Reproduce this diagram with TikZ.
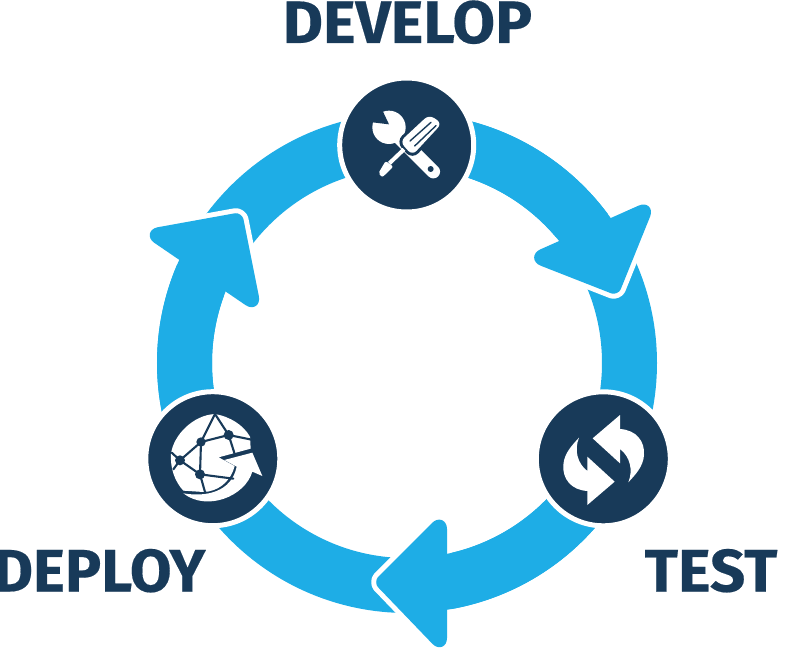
\documentclass[tikz,border=0pt]{standalone}
\usepackage{fontspec}
\usetikzlibrary{calc}
\setmainfont{Fira Sans}
\newfontfamily\labfont[FakeStretch=1.03,BoldFeatures={FakeBold=0.3}]{Fira Sans}
\definecolor{ringblue}{HTML}{1EADE6}
\definecolor{navy}{HTML}{183A59}
\tikzset{
  tri/.style n args={3}{insert path={
    ($(#1)!7pt!(#3)$) .. controls ($(#1)!3.8pt!(#3)$) and ($(#1)!3.8pt!(#2)$) .. ($(#1)!7pt!(#2)$)
    -- ($(#2)!21pt!(#1)$) .. controls ($(#2)!12pt!(#1)$) and ($(#2)!12pt!(#3)$) .. ($(#2)!21pt!(#3)$)
    -- ($(#3)!21pt!(#2)$) .. controls ($(#3)!12pt!(#2)$) and ($(#3)!12pt!(#1)$) .. ($(#3)!21pt!(#1)$)
    -- cycle}},
  head/.style={fill=ringblue},
  halo/.style={draw=white,line width=10,fill=white,line join=round},
  band/.style={draw=ringblue,line width=55},
  disc/.style={circle,fill=navy,draw=white,line width=5,minimum size=134,inner sep=0},
  label/.style={text=navy,font=\labfont\fontsize{60}{60}\selectfont\bfseries,inner sep=0,anchor=base},
  ico/.style={fill=white,draw=none},
  cut/.style={draw=navy,line cap=round,line join=round,line width=2.1}
}
\begin{document}
\begin{tikzpicture}[x=1pt,y=-1pt]
\useasboundingbox (0,0) rectangle (796,666);
\coordinate (c) at (407,363);
% full ring
\draw[band] (c) circle[radius=222.5];
% arrowhead corners
\coordinate (a1) at (618,296); \coordinate (a2) at (658,197); \coordinate (a3) at (521,258);
\coordinate (b1) at (373,582); \coordinate (b2) at (447,508); \coordinate (b3) at (447,659);
\coordinate (d1) at (242,212); \coordinate (d2) at (137,231); \coordinate (d3) at (263,317);
\path[halo,tri={a1}{a2}{a3}];
\path[halo,tri={b1}{b2}{b3}];
\path[halo,tri={d1}{d2}{d3}];
% incoming bands
\draw[band] ($(c)+(-90:222.5)$) arc[start angle=-90,end angle=-30,radius=222.5];
\draw[band] ($(c)+(30:222.5)$) arc[start angle=30,end angle=85,radius=222.5];
\draw[band] ($(c)+(-210:222.5)$) arc[start angle=-210,end angle=-150,radius=222.5];
% arrowheads
\path[head,tri={a1}{a2}{a3}];
\path[head,tri={b1}{b2}{b3}];
\path[head,tri={d1}{d2}{d3}];
% stage discs
\node[disc] (develop) at (406.7,145) {};
\node[disc] (test) at (603.3,458.8) {};
\node[disc] (deploy) at (212.8,458.7) {};
% wrench and screwdriver
\begin{scope}[shift={(330,70)},scale=1/3]
  \draw[white,line width=13.5,line cap=round] (180,175) -- (310,305);
  \fill[white] (177,172) circle[radius=50];
  \fill[navy] (160,127) -- (177,163) -- (127,157) -- (105,130) -- (140,100) -- cycle;
  \fill[navy] (302,297) circle[radius=9];
  \path[draw=navy,line width=6,rounded corners=6] (210,215) -- (297,134) -- (336,160) -- (247,256) -- cycle;
  \path[fill=white,rounded corners=6] (210,215) -- (297,134) -- (336,160) -- (247,256) -- cycle;
  \draw[white,line width=4,line cap=butt] (222,238) -- (178,280);
  \path[ico,rounded corners=2] (167,273) -- (190,290) -- (157,322) -- (145,310) -- cycle;
  \draw[navy,line width=1.4,line cap=round] (240,213) -- (303,157);
  \draw[navy,line width=1.4,line cap=round] (254,228) -- (318,167);
\end{scope}
% refresh arrows
\begin{scope}[shift={(530,385)},scale=1/3]
  \path[ico] (188,160) -- (270,90) -- (270,132) .. controls (320,135) and (345,170) .. (342,210) .. controls (340,245) and (315,270) .. (295,292) .. controls (310,255) and (300,215) .. (270,192) -- (270,235) -- cycle;
  \path[ico] (254,290) -- (172,360) -- (172,318) .. controls (122,315) and (97,280) .. (100,240) .. controls (102,205) and (127,180) .. (147,158) .. controls (132,195) and (142,235) .. (172,258) -- (172,215) -- cycle;
\end{scope}
% globe with arrow
\begin{scope}[shift={(140,380)},scale=1/3]
  \path[ico] (225,102) .. controls (270,110) and (310,135) .. (330,170) -- (332,206) -- (236,232) -- (284,258) .. controls (270,310) and (230,335) .. (190,336) -- (130,332) .. controls (105,305) and (90,265) .. (93,222) .. controls (100,165) and (160,105) .. (225,102) -- cycle;
  \path[ico] (253,240) -- (337,218) -- (367,288) -- (337,275) .. controls (315,350) and (200,395) .. (130,340) .. controls (200,352) and (275,335) .. (290,260) -- cycle;
  \draw[cut] (225,102) -- (183,186) -- (266,165) -- cycle;
  \draw[cut] (266,165) -- (330,178);
  \draw[cut] (266,165) -- (285,225);
  \draw[cut] (183,186) -- (120,241) -- (180,283) -- cycle;
  \draw[cut] (180,283) -- (280,296);
  \draw[cut] (180,283) -- (195,336);
  \draw[cut] (120,241) -- (95,218);
  \draw[cut] (120,241) -- (100,268);
  \fill[navy] (183,186) circle[radius=14];
  \fill[navy] (266,165) circle[radius=15];
  \fill[navy] (120,241) circle[radius=15];
  \fill[navy] (180,283) circle[radius=15];
\end{scope}
% labels
\node[label] (tdevelop) at (407.5,43) {DEVELOP};
\node[label] (ttest) at (711,591.5) {TEST};
\node[label] (tdeploy) at (99.5,591.5) {\scalebox{0.98}[1]{DEPLOY}};
\end{tikzpicture}
\end{document}
